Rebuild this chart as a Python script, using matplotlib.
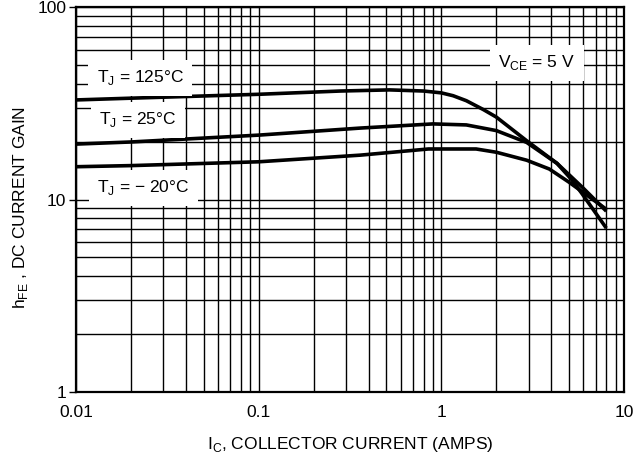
import matplotlib
matplotlib.use("Agg")
import matplotlib.pyplot as plt

plt.rcParams['font.family'] = ['Liberation Sans', 'DejaVu Sans']
plt.rcParams['mathtext.fontset'] = 'custom'
plt.rcParams['mathtext.rm'] = 'Liberation Sans'

# collector current (A) and hFE
ic_125 = [0.01, 0.02, 0.1, 0.28, 0.52, 0.8, 1.0, 1.16, 1.37, 1.7, 2.0, 2.93, 4.3, 5.2, 5.9, 8.0]
hfe_125 = [32.9, 33.6, 35.2, 36.6, 37.1, 36.6, 35.8, 34.6, 32.6, 29.3, 26.8, 20.2, 15.4, 12.6, 10.7, 7.1]

ic_25 = [0.01, 0.02, 0.1, 0.36, 0.9, 1.37, 2.0, 2.93, 4.3, 5.9, 8.0]
hfe_25 = [19.4, 19.9, 21.6, 23.5, 24.7, 24.4, 22.8, 19.8, 15.4, 11.6, 8.7]

ic_m20 = [0.01, 0.02, 0.1, 0.36, 0.85, 1.55, 2.0, 2.93, 3.9, 5.0, 8.0]
hfe_m20 = [14.8, 15.0, 15.7, 17.0, 18.3, 18.3, 17.6, 16.0, 14.4, 12.3, 8.9]

xticks = [0.01, 0.1, 1, 10]
xlabels = ['0.01', '0.1', '1', '10']
yticks = [1, 10, 100]
ylabels = ['1', '10', '100']

fig = plt.figure(figsize=(6.41, 4.57), dpi=100)
ax = fig.add_axes([0.1186, 0.1422, 0.8549, 0.8425])
ax.set_xscale('log')
ax.set_yscale('log')
ax.set_xlim(0.01, 10)
ax.set_ylim(1, 100)

ax.grid(True, which='both', color='black', linewidth=1.0)
ax.set_axisbelow(True)

for x, y in [(ic_125, hfe_125), (ic_25, hfe_25), (ic_m20, hfe_m20)]:
    ax.plot(x, y, color='black', linewidth=2.6, solid_capstyle='butt', zorder=3)

ax.set_xticks(xticks)
ax.set_xticklabels(xlabels)
ax.set_yticks(yticks)
ax.set_yticklabels(ylabels)
ax.minorticks_on()
ax.tick_params(which='minor', length=0)
ax.tick_params(axis='x', which='major', length=0, pad=9, labelsize=12.5)
ax.tick_params(axis='y', which='major', length=5, width=1, direction='out', pad=2, labelsize=12.5)
for s in ax.spines.values():
    s.set_linewidth(1.6)

box = dict(facecolor='white', edgecolor='none', pad=6)
lbl = dict(fontsize=12.5, ha='center', va='center', bbox=box, zorder=4)
ax.text(0.0224, 42.8, r'T$_\mathregular{J}$ = 125°C', **lbl)
ax.text(0.0218, 25.9, r'T$_\mathregular{J}$ = 25°C', **lbl)
ax.text(0.0233, 11.5, r'T$_\mathregular{J}$ = $-$ 20°C', **lbl)
ax.text(3.33, 51.2, r'V$_\mathregular{CE}$ = 5 V', **lbl)

ax.set_xlabel(r'I$_\mathregular{C}$, COLLECTOR CURRENT (AMPS)', fontsize=12.5, labelpad=11)
ax.set_ylabel(r'h$_\mathregular{FE}$ , DC CURRENT GAIN', fontsize=12.5)
ax.yaxis.set_label_coords(-0.084, 0.48)

fig.savefig('out.png', dpi=100)
